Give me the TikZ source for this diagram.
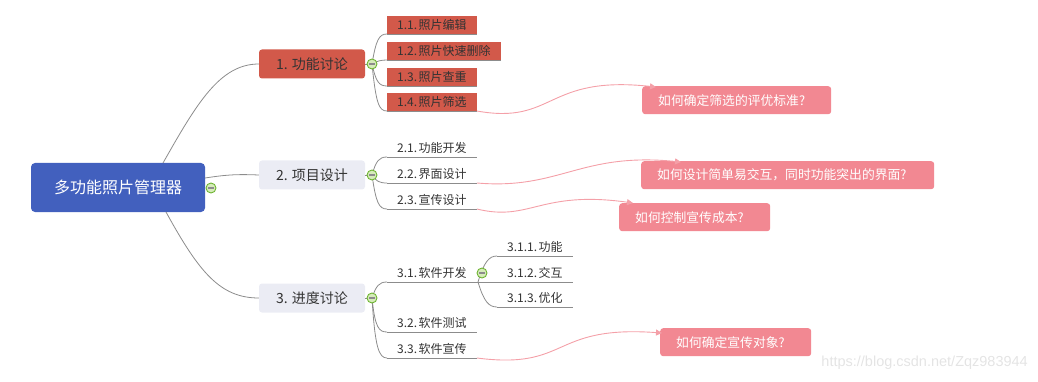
\documentclass[tikz,border=0pt]{standalone}
\usepackage{fontspec}
\setmainfont{Noto Sans CJK SC}
\newfontfamily\wmfont{Liberation Sans}
\usetikzlibrary{arrows.meta,calc}
\definecolor{rootblue}{RGB}{66,96,190}
\definecolor{redbox}{RGB}{210,89,74}
\definecolor{greybox}{RGB}{235,236,244}
\definecolor{linegrey}{RGB}{140,140,140}
\definecolor{pinkbox}{RGB}{242,136,146}
\definecolor{pinkline}{RGB}{244,160,168}
\definecolor{cgreen}{RGB}{110,180,50}
\definecolor{cfill}{RGB}{214,236,186}
\definecolor{txtdark}{RGB}{51,51,51}
\definecolor{wmgrey}{RGB}{228,228,228}
\newcommand{\gp}{\hspace{1.5pt}}
\begin{document}
\begin{tikzpicture}[x=1pt,y=-1pt,
  rootbox/.style={rectangle, rounded corners=4pt, fill=rootblue, text=white,
    minimum width=174pt, minimum height=49pt, inner sep=0pt, font=\fontsize{16}{18}\selectfont},
  mainbox/.style={rectangle, rounded corners=3pt, minimum width=106pt, minimum height=29pt,
    inner sep=0pt, text=txtdark, font=\fontsize{14}{16}\selectfont},
  subbox/.style={rectangle, anchor=south west, minimum width=88pt, minimum height=18pt,
    inner xsep=10pt, inner ysep=0pt, text=txtdark, font=\fontsize{12}{14}\selectfont},
  redsub/.style={subbox, fill=redbox},
  uline/.style={draw=linegrey, line width=0.9pt},
  conn/.style={draw=linegrey, line width=0.8pt},
  collapse/.style={circle, draw=cgreen, fill=cfill, line width=0.9pt, minimum size=10pt, inner sep=0pt,
    path picture={\draw[line width=1.6pt, linegrey] ([xshift=-2.6pt]path picture bounding box.center) -- ([xshift=2.6pt]path picture bounding box.center);}},
  callout/.style={rectangle, rounded corners=3pt, fill=pinkbox, text=white, anchor=north west,
    inner xsep=16pt, inner ysep=0pt, align=left, minimum height=28pt, font=\fontsize{12.8}{15}\selectfont},
  rel/.style={draw=pinkline, line width=0.9pt, -{Triangle[length=6pt,width=6pt]}}
]
\useasboundingbox (0,0) rectangle (1038,382);

% main nodes
\node[rootbox] (root) at (118,187.5) {多功能照片管理器};
\node[mainbox, fill=redbox] (n1) at (312,64) {1. 功能讨论};
\node[mainbox, fill=greybox] (n2) at (312,175) {2. 项目设计};
\node[mainbox, fill=greybox] (n3) at (312,298) {3. 进度讨论};

% sub nodes
\node[redsub] (s11) at (387,34) {1.1.\gp{}照片编辑};
\node[redsub] (s12) at (387,60) {1.2.\gp{}照片快速删除};
\node[redsub] (s13) at (387,86) {1.3.\gp{}照片查重};
\node[redsub] (s14) at (387,111) {1.4.\gp{}照片筛选};
\node[subbox] (s21) at (387,157) {2.1.\gp{}功能开发};
\node[subbox] (s22) at (387,183) {2.2.\gp{}界面设计};
\node[subbox] (s23) at (387,209) {2.3.\gp{}宣传设计};
\node[subbox] (s31) at (387,282) {3.1.\gp{}软件开发};
\node[subbox] (s32) at (387,332) {3.2.\gp{}软件测试};
\node[subbox] (s33) at (387,358) {3.3.\gp{}软件宣传};
\node[subbox, minimum width=74pt] (s311) at (497,256) {3.1.1.\gp{}功能};
\node[subbox, minimum width=74pt] (s312) at (497,282) {3.1.2.\gp{}交互};
\node[subbox, minimum width=74pt] (s313) at (497,307) {3.1.3.\gp{}优化};

\foreach \n in {s11,s12,s13,s14,s21,s22,s23,s31,s32,s33,s311,s312,s313}
  \draw[uline] (\n.south west) -- (\n.south east);

% collapse markers (coordinates)
\coordinate (c0) at (211,188);
\coordinate (c1) at (372,64);
\coordinate (c2) at (372,175);
\coordinate (c3) at (372,298);
\coordinate (c31) at (482,273);
\coordinate (b31) at (478,282);

% root connectors
\draw[conn] (163,163) .. controls (197,103) and (220,64) .. (n1.west);
\draw[conn] (205,178) .. controls (225,175) and (235,174) .. (n2.west);
\draw[conn] (166,212) .. controls (199,272) and (220,298) .. (n3.west);

% level-1 connectors
\draw[conn] (n1.east) -- (c1);
\draw[conn] (n2.east) -- (c2);
\draw[conn] (n3.east) -- (c3);
\draw[conn] (c1) .. controls +(4,-24) and +(-8,0) .. (s11.south west);
\draw[conn] (c1) .. controls +(5,-3) and +(-6,0) .. (s12.south west);
\draw[conn] (c1) .. controls +(4,18) and +(-8,0) .. (s13.south west);
\draw[conn] (c1) .. controls +(4,40) and +(-8,0) .. (s14.south west);
\draw[conn] (c2) .. controls +(4,-14) and +(-8,0) .. (s21.south west);
\draw[conn] (c2) .. controls +(4,6) and +(-8,0) .. (s22.south west);
\draw[conn] (c2) .. controls +(4,28) and +(-8,0) .. (s23.south west);
\draw[conn] (c3) .. controls +(4,-12) and +(-8,0) .. (s31.south west);
\draw[conn] (c3) .. controls +(3,30) and +(-8,0) .. (s32.south west);
\draw[conn] (c3) .. controls +(3,50) and +(-8,0) .. (s33.south west);
\draw[conn] (s31.south east) -- (b31);
\draw[conn] (b31) .. controls +(6,-20) and +(-8,0) .. (s311.south west);
\draw[conn] (b31) -- (s312.south west);
\draw[conn] (b31) .. controls +(6,20) and +(-8,0) .. (s313.south west);

\node[collapse] at (c0) {};
\node[collapse] at (c1) {};
\node[collapse] at (c2) {};
\node[collapse] at (c3) {};
\node[collapse] at (c31) {};

% callouts
\node[callout, text width=157pt] (qa) at (642,86) {如何确定筛选的评优标准?};
\node[callout, text width=261pt] (qb) at (641,161) {如何设计简单易交互，同时功能突出的界面?};
\node[callout, text width=119pt] (qc) at (619,203) {如何控制宣传成本?};
\node[callout, text width=119pt] (qd) at (660,328) {如何确定宣传对象?};

% relationships
\draw[rel] (s14.south east) .. controls (555,125) and (545,75) .. ($(qa.north west)+(14,1)$);
\draw[rel] (s22.south east) .. controls (560,190) and (580,152) .. ($(qb.north west)+(40,1)$);
\draw[rel] (s23.south east) .. controls (530,222) and (540,190) .. ($(qc.north west)+(14,0)$);
\draw[rel] (s33.south east) .. controls (570,370) and (550,325) .. ($(qd.north west)+(2,5)$);

% watermark
\node[anchor=east, text=wmgrey, font=\wmfont\fontsize{14.5}{16}\selectfont, inner sep=0pt] (wm) at (1028,363) {https://blog.csdn.net/Zqz983944};
\end{tikzpicture}
\end{document}
